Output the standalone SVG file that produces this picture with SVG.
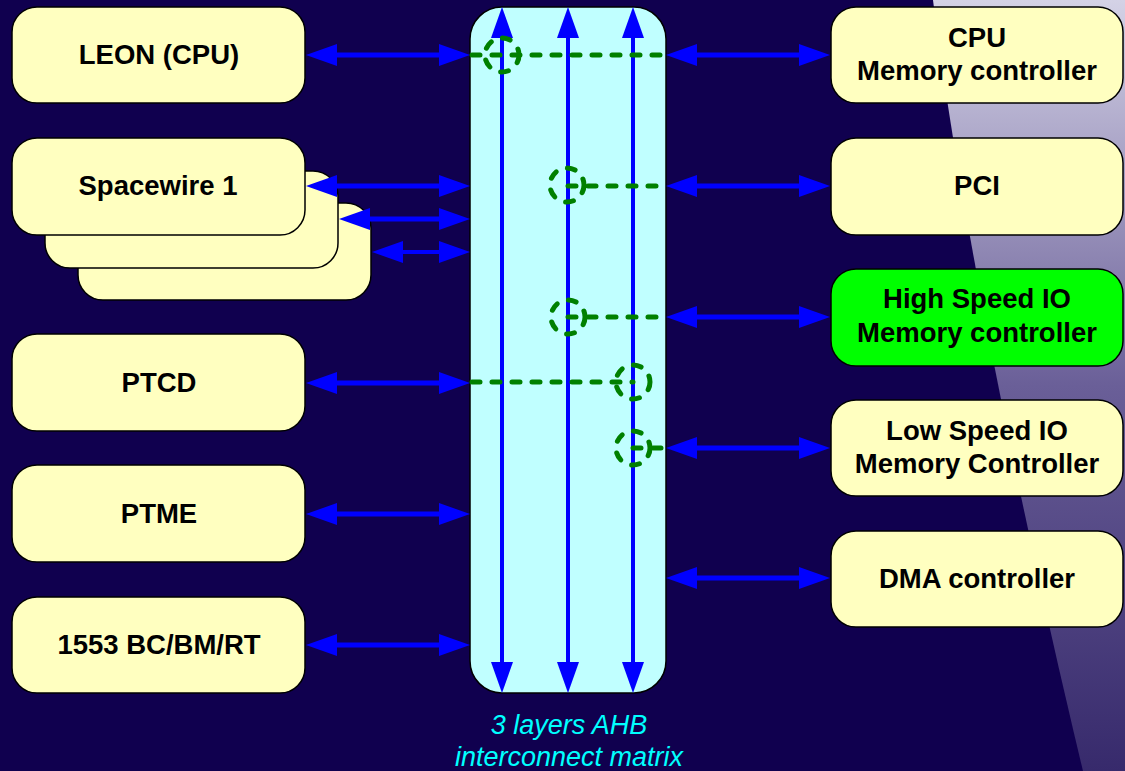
<svg xmlns="http://www.w3.org/2000/svg" width="1125" height="771" viewBox="0 0 1125 771">
  <defs>
    <linearGradient id="sky" x1="0" y1="0" x2="0" y2="1">
      <stop offset="0" stop-color="#D4D2E6"/>
      <stop offset="0.5" stop-color="#6A5F98"/>
      <stop offset="1" stop-color="#372A6C"/>
    </linearGradient>
    <marker id="head" viewBox="0 -11 31 22" markerUnits="userSpaceOnUse" markerWidth="31" markerHeight="22" refX="16" refY="0" orient="auto-start-reverse">
      <path d="M0,-11 L31,0 L0,11 Z" fill="#0000FF"/>
    </marker>
    <style>
      .box { fill: #FFFFC0; stroke: #000; stroke-width: 1.5; }
      .hot { fill: #00FF00; stroke: #000; stroke-width: 1.5; }
      .matrix { fill: #C0FFFF; stroke: #000; stroke-width: 1.5; }
      .lbl { font-family: "Liberation Sans", Arial, sans-serif; font-weight: bold; font-size: 27.5px; fill: #000; text-anchor: middle; }
      .cap { font-family: "Liberation Sans", Arial, sans-serif; font-style: italic; font-size: 27px; fill: #00FFFF; text-anchor: middle; }
      .bus { stroke: #0000FF; stroke-width: 5; fill: none; marker-start: url(#head); marker-end: url(#head); }
      .bus4 { stroke: #0000FF; stroke-width: 4; fill: none; marker-start: url(#head); marker-end: url(#head); }
      .path { stroke: #008000; stroke-width: 5; fill: none; stroke-dasharray: 8 12; stroke-linecap: round; }
    </style>
  </defs>

  <!-- backdrop -->
  <rect x="0" y="0" width="1125" height="771" fill="#10004F"/>
  <path d="M933,0 C958,200 1018,500 1083,771 L1125,771 L1125,0 Z" fill="url(#sky)"/>

  <!-- interconnect matrix -->
  <g id="matrix">
    <rect class="matrix" x="470" y="7" width="196" height="686" rx="32" ry="32"/>
    <line class="bus4" x1="502" y1="22" x2="502" y2="678"/>
    <line class="bus4" x1="568" y1="22" x2="568" y2="678"/>
    <line class="bus4" x1="633" y1="22" x2="633" y2="678"/>
    <text class="cap" x="569" y="734">3 layers AHB</text>
    <text class="cap" x="569" y="766">interconnect matrix</text>
  </g>

  <!-- masters -->
  <g id="leon">
    <rect class="box" x="12" y="7" width="293" height="96" rx="25" ry="25"/>
    <text class="lbl" x="159" y="64">LEON (CPU)</text>
  </g>
  <g id="spacewire">
    <rect class="box" x="78" y="203" width="293" height="97" rx="25" ry="25"/>
    <rect class="box" x="45" y="171" width="293" height="97" rx="25" ry="25"/>
    <rect class="box" x="12" y="138" width="293" height="97" rx="25" ry="25"/>
    <text class="lbl" x="158" y="195">Spacewire 1</text>
  </g>
  <g id="ptcd">
    <rect class="box" x="12" y="334" width="293" height="97" rx="25" ry="25"/>
    <text class="lbl" x="159" y="392">PTCD</text>
  </g>
  <g id="ptme">
    <rect class="box" x="12" y="465" width="293" height="97" rx="25" ry="25"/>
    <text class="lbl" x="159" y="523">PTME</text>
  </g>
  <g id="mil1553">
    <rect class="box" x="12" y="597" width="293" height="96" rx="25" ry="25"/>
    <text class="lbl" x="159" y="654">1553 BC/BM/RT</text>
  </g>

  <!-- slaves -->
  <g id="cpu-mem">
    <rect class="box" x="831" y="7" width="292" height="96" rx="25" ry="25"/>
    <text class="lbl" x="977" y="47">CPU</text>
    <text class="lbl" x="977" y="80">Memory controller</text>
  </g>
  <g id="pci">
    <rect class="box" x="831" y="138" width="292" height="97" rx="25" ry="25"/>
    <text class="lbl" x="977" y="195">PCI</text>
  </g>
  <g id="hsio">
    <rect class="hot" x="831" y="269" width="292" height="97" rx="25" ry="25"/>
    <text class="lbl" x="977" y="308">High Speed IO</text>
    <text class="lbl" x="977" y="342">Memory controller</text>
  </g>
  <g id="lsio">
    <rect class="box" x="831" y="400" width="292" height="96" rx="25" ry="25"/>
    <text class="lbl" x="977" y="440">Low Speed IO</text>
    <text class="lbl" x="977" y="473">Memory Controller</text>
  </g>
  <g id="dma">
    <rect class="box" x="831" y="531" width="292" height="96" rx="25" ry="25"/>
    <text class="lbl" x="977" y="588">DMA controller</text>
  </g>

  <!-- links and routed paths -->
  <g id="connectors">
    <line class="bus" x1="321" y1="55" x2="455" y2="55"/>
    <line class="bus" x1="321" y1="186" x2="455" y2="186"/>
    <line class="bus" x1="354" y1="219" x2="455" y2="219"/>
    <line class="bus4" x1="387" y1="252" x2="455" y2="252"/>
    <line class="bus" x1="321" y1="383" x2="455" y2="383"/>
    <line class="bus" x1="321" y1="514" x2="455" y2="514"/>
    <line class="bus" x1="321" y1="645" x2="455" y2="645"/>

    <line class="bus" x1="681" y1="55" x2="815" y2="55"/>
    <line class="bus" x1="681" y1="186" x2="815" y2="186"/>
    <line class="bus" x1="681" y1="317" x2="815" y2="317"/>
    <line class="bus" x1="681" y1="448" x2="815" y2="448"/>
    <line class="bus" x1="681" y1="578" x2="815" y2="578"/>

    <line class="path" x1="472" y1="55" x2="664" y2="55"/>
    <circle class="path" cx="502" cy="55" r="17"/>
    <line class="path" x1="568" y1="186" x2="664" y2="186"/>
    <circle class="path" cx="567" cy="185" r="17"/>
    <line class="path" x1="568" y1="317" x2="664" y2="317"/>
    <circle class="path" cx="568" cy="317" r="17"/>
    <line class="path" x1="472" y1="382" x2="633" y2="382"/>
    <circle class="path" cx="633" cy="382" r="17"/>
    <line class="path" x1="633" y1="448" x2="664" y2="448"/>
    <circle class="path" cx="633" cy="448" r="17"/>
  </g>
</svg>
